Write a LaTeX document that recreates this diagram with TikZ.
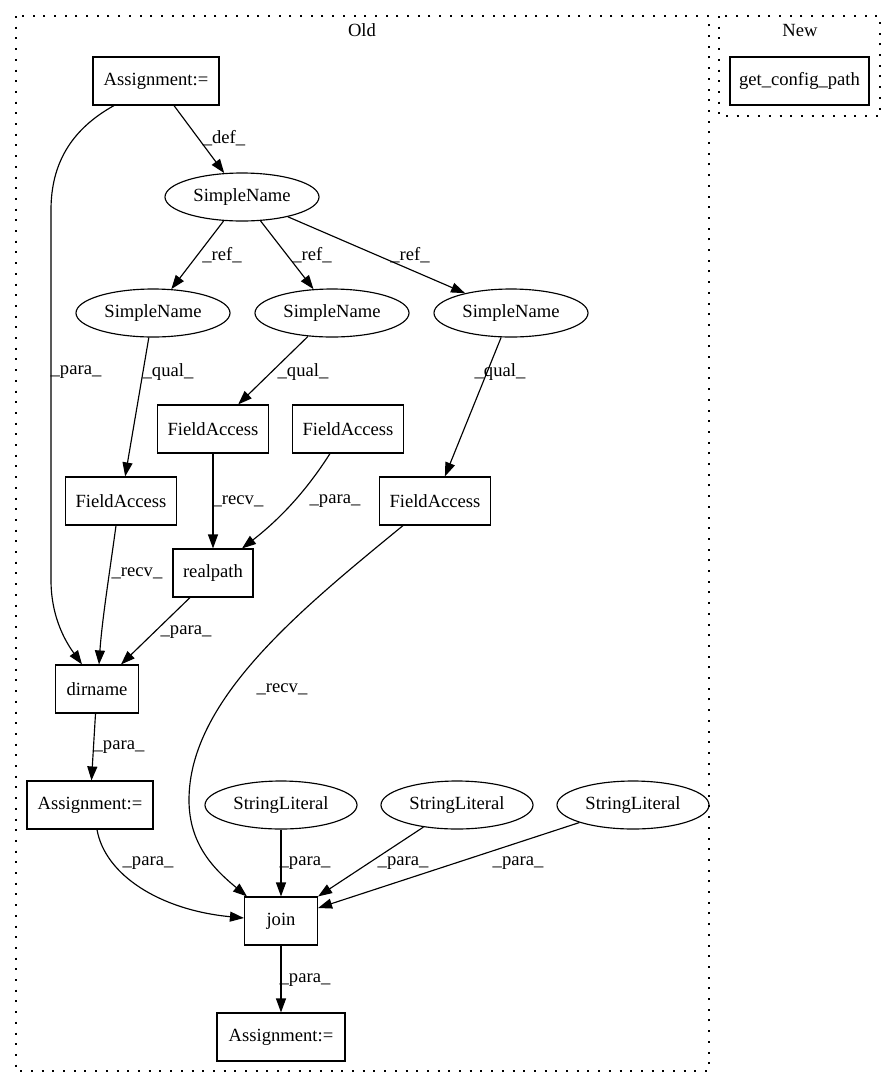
\documentclass[tikz,border=0pt]{standalone}
\usepackage{fontspec}
\setmainfont{Liberation Serif}
\usetikzlibrary{arrows.meta,shapes.geometric,calc}
\begin{document}
\begin{tikzpicture}[x=1pt,y=-1pt,
  every node/.style={font=\fontsize{18.6}{22}\selectfont},
  box/.style={draw, line width=1.15pt, rectangle, minimum height=48pt, inner sep=0pt},
  ell/.style={draw, line width=1.15pt, ellipse, minimum height=48pt, minimum width=154pt, inner sep=0pt},
  edge/.style={line width=1.15pt, -{Triangle[length=14pt,width=10pt]}},
  lbl/.style={inner sep=0pt},
  cluster/.style={line width=1.2pt, dash pattern=on 2pt off 8.7pt}
]
\path[use as bounding box] (0,0) rectangle (896,1088);

% clusters
\draw[cluster] (16,16) rectangle (709,1071);
\node (oldlbl) at (362,30) {Old};
\draw[cluster] (719,16) rectangle (880,116);
\node (newlbl) at (800,30) {New};

% nodes
\node[box, minimum width=126pt] (A1) at (156,81) {Assignment:=};
\node[ell] (SNt) at (242,197) {SimpleName};
\node[ell] (SNl) at (153,313) {SimpleName};
\node[ell] (SNm) at (332,313) {SimpleName};
\node[ell] (SNr) at (511,313) {SimpleName};
\node[box, minimum width=111pt] (FAm) at (213,429) {FieldAccess};
\node[box, minimum width=111pt] (FA2) at (348,429) {FieldAccess};
\node[box, minimum width=111pt] (FAl) at (121,501) {FieldAccess};
\node[box, minimum width=111pt] (FAr) at (435,501) {FieldAccess};
\node[box, minimum width=80pt] (rp) at (213,573) {realpath};
\node[box, minimum width=83pt] (dn) at (97,689) {dirname};
\node[box, minimum width=126pt] (Am) at (90,805) {Assignment:=};
\node[ell, minimum width=152pt] (SL1) at (281,805) {StringLiteral};
\node[ell, minimum width=152pt] (SL2) at (457,805) {StringLiteral};
\node[ell, minimum width=152pt] (SL3) at (633,805) {StringLiteral};
\node[box, minimum width=73pt] (jn) at (281,921) {join};
\node[box, minimum width=128pt] (A3) at (281,1037) {Assignment:=};
\node[box, minimum width=139pt] (gcp) at (799.5,81) {get\_config\_path};

% edges
\draw[edge] ([xshift=18pt]A1.south) -- (SNt) node[lbl] at (224,138) {\_def\_};
\draw[edge] ([xshift=-42pt]A1.south) .. controls (70,130) and (51,165) .. (51,210) -- (51,580) .. controls (51,620) and (68,645) .. ([xshift=-15pt]dn.north) node[lbl] at (76,372) {\_para\_};
\draw[edge] (SNt) -- (SNl) node[lbl] at (222,255) {\_ref\_};
\draw[edge] (SNt) -- (SNm) node[lbl] at (312,255) {\_ref\_};
\draw[edge] (SNt) -- (SNr) node[lbl] at (410,255) {\_ref\_};
\draw[edge] (SNl) -- (FAl) node[lbl] at (168,372) {\_qual\_};
\draw[edge] (SNm) -- (FAm) node[lbl] at (303,372) {\_qual\_};
\draw[edge] (SNr) -- (FAr) node[lbl] at (500,372) {\_qual\_};
\draw[edge] (FAm) -- (rp) node[lbl] at (238,501) {\_recv\_};
\draw[edge] ([xshift=-18pt]FA2.south) .. controls (310,485) and (285,515) .. ([xshift=29pt]rp.north) node[lbl] at (335,501) {\_para\_};
\draw[edge] ([xshift=-5pt]FAl.south) .. controls (110,570) and (102,620) .. ([xshift=2pt]dn.north) node[lbl] at (137,573) {\_recv\_};
\draw[edge] ([xshift=-23pt]rp.south) -- ([xshift=24pt]dn.north) node[lbl] at (186,632) {\_para\_};
\draw[edge] ([xshift=-32pt]FAr.south) .. controls (300,610) and (189,700) .. (189,800) .. controls (189,845) and (215,870) .. ([xshift=-34pt]jn.north) node[lbl] at (282,689) {\_recv\_};
\draw[edge] (dn) -- (Am) node[lbl] at (119,747) {\_para\_};
\draw[edge] ([xshift=7pt]Am.south) .. controls (105,875) and (160,910) .. ([yshift=3pt]jn.west) node[lbl] at (148,863) {\_para\_};
\draw[edge] (SL1) -- (jn) node[lbl] at (305,863) {\_para\_};
\draw[edge] (SL2) -- (jn.north east) node[lbl] at (403,863) {\_para\_};
\draw[edge] (SL3) -- ([yshift=13pt]jn.east) node[lbl] at (518,863) {\_para\_};
\draw[edge] (jn) -- (A3) node[lbl] at (305,980) {\_para\_};
\end{tikzpicture}
\end{document}
